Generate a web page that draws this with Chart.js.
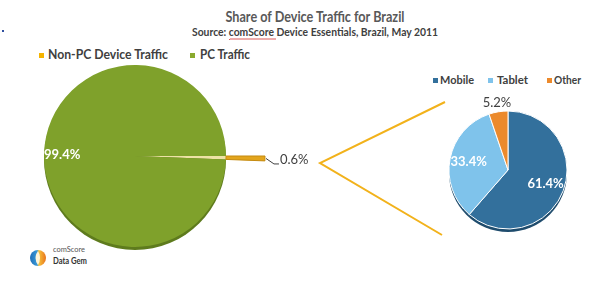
<!DOCTYPE html>
<html>
<head>
<meta charset="utf-8">
<script src="https://cdn.jsdelivr.net/npm/chart.js@4.4.0/dist/chart.umd.min.js"></script>
<style>
  html, body { margin: 0; padding: 0; background: #fff; }
  #wrap { position: relative; width: 598px; height: 284px; overflow: hidden; font-family: Lato, "Liberation Sans", sans-serif; }
  canvas, svg { position: absolute; }
  #bigPie { left: 0; top: 20px; }
  #smallPie { left: 438px; top: 90px; }
  #overlay { left: 0; top: 0; pointer-events: none; }
</style>
</head>
<body>
<div id="wrap">
  <svg id="overlay" width="598" height="284"></svg>
  <canvas id="bigPie" width="340" height="272"></canvas>
  <canvas id="smallPie" width="140" height="160"></canvas>
</div>
<script>
// ---- dados ----
const titleText = 'Share of Device Traffic for Brazil';
const subtitleText = 'Source: comScore Device Essentials, Brazil, May 2011';

const trafficLabels = ['Non-PC Device Traffic', 'PC Traffic'];
const trafficValues = [0.6, 99.4];
const trafficColors = ['#E3A51C', '#7FA12B'];
const trafficLegendColors = ['#F5B400', '#8AAA2E'];

const deviceLabels = ['Mobile', 'Tablet', 'Other'];
const deviceValues = [61.4, 33.4, 5.2];
const deviceColors = ['#33709C', '#7FC3EB', '#EC8A2C'];

// ---- overlay (titulo, legendas, linhas de ligacao, logo) ----
const NS = 'http://www.w3.org/2000/svg';
const svg = document.getElementById('overlay');
function el(tag, attrs, text) {
    const e = document.createElementNS(NS, tag);
    for (const k in attrs) e.setAttribute(k, attrs[k]);
    if (text !== undefined) e.textContent = text;
    svg.appendChild(e);
    return e;
}

el('text', { x: 315, y: 22, 'text-anchor': 'middle', textLength: 179, lengthAdjust: 'spacingAndGlyphs',
    'font-size': 15, 'font-weight': 'bold', fill: '#595959', 'font-family': 'Lato' }, titleText);
el('text', { x: 315, y: 36, 'text-anchor': 'middle', textLength: 246, lengthAdjust: 'spacingAndGlyphs',
    'font-size': 12, 'font-weight': 'bold', fill: '#404040', 'font-family': 'Lato' }, subtitleText);

// sublinhado ondulado do corretor
let wave = 'M229 40';
for (let x = 229; x < 277; x += 2) wave += ' L' + (x + 1) + ' ' + ((x / 2) % 2 ? 39 : 41);
el('path', { d: wave, stroke: '#D23030', 'stroke-width': 0.8, fill: 'none' });

el('rect', { x: 2, y: 30, width: 2, height: 2, fill: '#3050A0' });

// legenda grande
const bigLegend = [{ sq: 39, tx: 48, w: 120 }, { sq: 190, tx: 200, w: 50 }];
trafficLabels.forEach((lab, i) => {
    el('rect', { x: bigLegend[i].sq, y: 53, width: 5, height: 5, fill: trafficLegendColors[i] });
    el('text', { x: bigLegend[i].tx, y: 59, textLength: bigLegend[i].w, lengthAdjust: 'spacingAndGlyphs',
        'font-size': 13, 'font-weight': 'bold', fill: '#404040', 'font-family': 'Lato' }, lab);
});

// legenda pequena
const smallLegend = [{ sq: 433, tx: 440, w: 34 }, { sq: 488, tx: 497, w: 31 }, { sq: 547, tx: 554, w: 27 }];
deviceLabels.forEach((lab, i) => {
    el('rect', { x: smallLegend[i].sq, y: 78, width: 5, height: 5, fill: deviceColors[i] });
    el('text', { x: smallLegend[i].tx, y: 84, textLength: smallLegend[i].w, lengthAdjust: 'spacingAndGlyphs',
        'font-size': 12, 'font-weight': 'bold', fill: '#404040', 'font-family': 'Lato' }, lab);
});

// linhas de ligacao
el('polyline', { points: '445,102 320,163 442,235', stroke: '#F2B21B', 'stroke-width': 2, fill: 'none' });

// logo
const defs = el('defs', {});
const grad = document.createElementNS(NS, 'linearGradient');
grad.setAttribute('id', 'lg'); grad.setAttribute('x1', '0'); grad.setAttribute('x2', '1');
[['0', '#1F6FB8'], ['0.45', '#3A9AD8'], ['0.55', '#F6C23A'], ['1', '#E9741E']].forEach(s => {
    const st = document.createElementNS(NS, 'stop');
    st.setAttribute('offset', s[0]); st.setAttribute('stop-color', s[1]);
    grad.appendChild(st);
});
defs.appendChild(grad);
el('circle', { cx: 38, cy: 258, r: 8, fill: 'url(#lg)' });
el('path', { d: 'M38 251 Q33 258 38 265 Q42 258 38 251 Z', fill: '#FFF5D8' });
el('text', { x: 53, y: 252, textLength: 32, lengthAdjust: 'spacingAndGlyphs', 'font-size': 7,
    fill: '#555', 'font-family': 'Lato' }, 'comScore');
el('text', { x: 53, y: 264, textLength: 34, lengthAdjust: 'spacingAndGlyphs', 'font-size': 10,
    'font-weight': 'bold', fill: '#333', 'font-family': 'Lato' }, 'Data Gem');

// ---- plugins ----
const pieShadow = {
    id: 'pieShadow',
    beforeDatasetsDraw(chart, args, opts) {
        const arc = chart.getDatasetMeta(opts.dataset).data[opts.index];
        if (!arc) return;
        const ctx = chart.ctx;
        ctx.save();
        ctx.fillStyle = opts.color;
        ctx.beginPath();
        ctx.arc(arc.x, arc.y + 3, arc.outerRadius, 0, Math.PI * 2);
        ctx.fill();
        ctx.restore();
    }
};

const pctLabels = {
    id: 'pctLabels',
    afterDatasetsDraw(chart, args, opts) {
        const ctx = chart.ctx;
        opts.items.forEach(st => {
            const arc = chart.getDatasetMeta(st.dataset).data[st.index];
            const p = arc.getProps(['x', 'y', 'startAngle', 'endAngle', 'outerRadius']);
            const mid = (p.startAngle + p.endAngle) / 2;
            const txt = chart.data.datasets[st.dataset].data[st.index].toFixed(1) + '%';
            ctx.save();
            ctx.font = st.font;
            ctx.fillStyle = st.color;
            if (st.leader) {
                const ex = p.x + Math.cos(mid) * p.outerRadius;
                const ey = p.y + Math.sin(mid) * p.outerRadius;
                ctx.strokeStyle = '#404040';
                ctx.lineWidth = 1;
                ctx.beginPath();
                ctx.moveTo(ex + 1, ey);
                ctx.lineTo(ex + 9, ey + 5.5);
                ctx.lineTo(ex + 14, ey + 5.5);
                ctx.stroke();
                ctx.textAlign = 'left';
                ctx.textBaseline = 'alphabetic';
                ctx.fillText(txt, ex + 15, ey + 5.5);
            } else {
                const r = p.outerRadius * st.pos;
                ctx.textAlign = 'center';
                ctx.textBaseline = 'middle';
                ctx.fillText(txt, p.x + Math.cos(mid) * r, p.y + Math.sin(mid) * r);
            }
            ctx.restore();
        });
    }
};

// ---- grafico principal ----
// anel externo = fatia destacada (Non-PC); pizza interna = PC + vao da fatia
new Chart(document.getElementById('bigPie'), {
    type: 'pie',
    data: {
        labels: trafficLabels,
        datasets: [{
            data: trafficValues,
            backgroundColor: [trafficColors[0], 'rgba(0,0,0,0)'],
            borderColor: ['#C48A10', 'rgba(0,0,0,0)'],
            borderWidth: 1,
            hoverOffset: 0,
            weight: 39
        }, {
            data: trafficValues,
            backgroundColor: ['#EDE2A6', trafficColors[1]],
            borderWidth: 0,
            hoverOffset: 0,
            weight: 91
        }]
    },
    options: {
        responsive: false,
        animation: false,
        rotation: 90,
        layout: { padding: { left: 4.5, right: 74.5, top: 5.5, bottom: 5.5 } },
        plugins: {
            legend: { display: false },
            tooltip: { enabled: false },
            pieShadow: { dataset: 1, index: 1, color: '#5E7B1D' },
            pctLabels: {
                items: [
                    { dataset: 0, index: 0, leader: true, font: '13px Lato', color: '#404040' },
                    { dataset: 1, index: 1, pos: 0.8, font: 'bold 13px Lato', color: '#FFFFFF' }
                ]
            }
        }
    },
    plugins: [pieShadow, pctLabels]
});

// ---- grafico de dispositivos ----
new Chart(document.getElementById('smallPie'), {
    type: 'pie',
    data: {
        labels: deviceLabels,
        datasets: [{
            data: deviceValues,
            backgroundColor: deviceColors,
            borderColor: '#FFFFFF',
            borderWidth: 1,
            hoverOffset: 0
        }]
    },
    options: {
        responsive: false,
        animation: false,
        layout: { padding: { left: 10.5, right: 10.5, top: 20.5, bottom: 20.5 } },
        plugins: {
            legend: { display: false },
            tooltip: { enabled: false },
            pieShadow: { dataset: 0, index: 0, color: '#1F4C6D' },
            pctLabels: {
                items: [
                    { dataset: 0, index: 0, pos: 0.68, font: 'bold 13px Lato', color: '#FFFFFF' },
                    { dataset: 0, index: 1, pos: 0.68, font: 'bold 13px Lato', color: '#FFFFFF' },
                    { dataset: 0, index: 2, pos: 1.15, font: '13px Lato', color: '#404040' }
                ]
            }
        }
    },
    plugins: [pieShadow, pctLabels]
});
</script>
</body>
</html>
